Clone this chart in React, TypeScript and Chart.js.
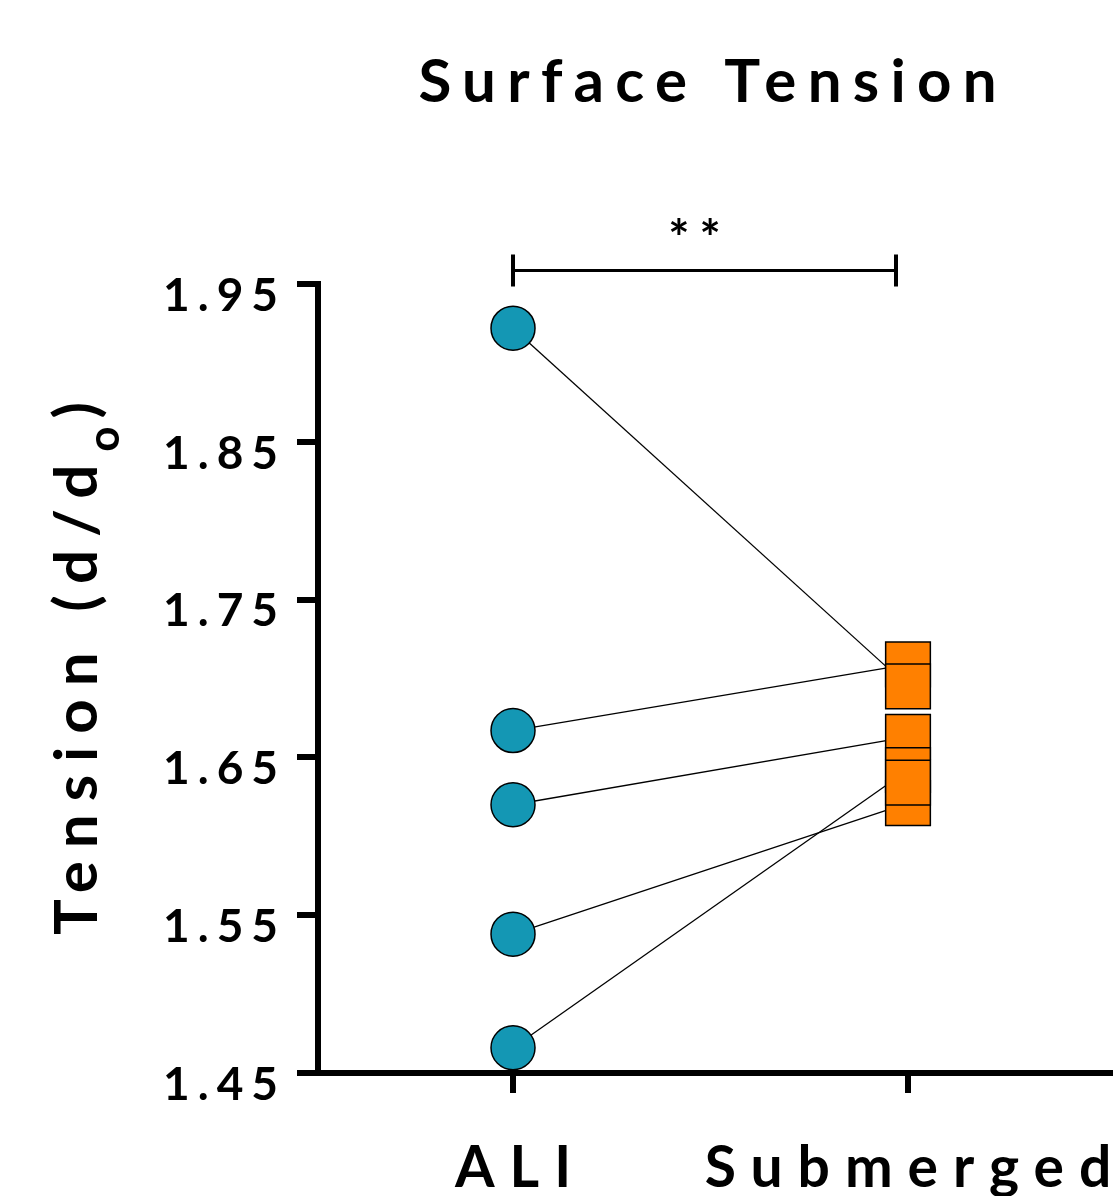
import { useEffect, useRef } from 'react';
import { Chart, registerables } from 'chart.js';

Chart.register(...registerables);

const categories = ['ALI', 'Submerged'];
const aliValues: (number | null)[] = [1.667, 1.922, 1.62, 1.466, 1.538, null];
const submergedValues: number[] = [1.709, 1.695, 1.663, 1.642, 1.621, 1.634];
const yTicks = [1.45, 1.55, 1.65, 1.75, 1.85, 1.95];
const chartTitle = 'Surface Tension';
const yTitleMain = 'Tension (d/d';
const yTitleSub = 'o';
const yTitleEnd = ')';
const significance = '**';
const bracketLevel = 1.9585;

const FONT = 'Lato, "Open Sans", sans-serif';

export default function App() {
  const ref = useRef<HTMLCanvasElement>(null);

  useEffect(() => {
    document.body.style.margin = '0';
    const canvas = ref.current;
    if (!canvas) return;

    const lineDatasets = aliValues
      .map((a, i) =>
        a == null
          ? null
          : {
              type: 'line' as const,
              data: [
                { x: 0, y: a },
                { x: 1, y: submergedValues[i] },
              ],
              showLine: true,
              borderColor: '#000',
              borderWidth: 1.3,
              pointRadius: 0,
              fill: false,
              order: 3,
              clip: false as const,
            }
      )
      .filter(Boolean) as any[];

    const textPlugin = {
      id: 'customText',
      beforeDraw(chart: any) {
        chart.ctx.letterSpacing = '8px';
      },
      afterDraw(chart: any) {
        const ctx: CanvasRenderingContext2D = chart.ctx;
        const xs = chart.scales.x;
        const ys = chart.scales.y;
        const put = (
          text: string,
          px: number,
          py: number,
          size: number,
          spacing: number,
          align: CanvasTextAlign
        ) => {
          ctx.save();
          ctx.font = `bold ${size}px ${FONT}`;
          (ctx as any).letterSpacing = `${spacing}px`;
          ctx.fillStyle = '#000';
          ctx.textAlign = align;
          ctx.textBaseline = 'alphabetic';
          ctx.fillText(text, align === 'center' ? px + spacing / 2 : px, py);
          ctx.restore();
        };

        // title
        put(chartTitle, 707.5, 102, 60, 11.3, 'center');

        // x category labels
        categories.forEach((c, i) => {
          put(c, xs.getPixelForValue(i), 1187, 57, 15, 'center');
        });

        // y axis title (rotated)
        ctx.save();
        ctx.translate(97, 935);
        ctx.rotate(-Math.PI / 2);
        ctx.fillStyle = '#000';
        ctx.textAlign = 'left';
        ctx.textBaseline = 'alphabetic';
        ctx.font = `bold 60px ${FONT}`;
        (ctx as any).letterSpacing = '13px';
        ctx.fillText(yTitleMain, 0, 0);
        let w = ctx.measureText(yTitleMain).width;
        ctx.font = `bold 44px ${FONT}`;
        (ctx as any).letterSpacing = '8px';
        ctx.fillText(yTitleSub, w, 22);
        w += ctx.measureText(yTitleSub).width;
        ctx.font = `bold 60px ${FONT}`;
        (ctx as any).letterSpacing = '13px';
        ctx.fillText(yTitleEnd, w, 0);
        ctx.restore();

        // significance bracket
        const by = ys.getPixelForValue(bracketLevel);
        const bx1 = xs.getPixelForValue(0);
        const bx2 = xs.getPixelForValue(1) - 12;
        ctx.save();
        ctx.strokeStyle = '#000';
        ctx.lineWidth = 3;
        ctx.beginPath();
        ctx.moveTo(bx1, by);
        ctx.lineTo(bx2, by);
        ctx.stroke();
        ctx.lineWidth = 4;
        ctx.beginPath();
        ctx.moveTo(bx1, by - 16);
        ctx.lineTo(bx1, by + 16);
        ctx.moveTo(bx2, by - 16);
        ctx.lineTo(bx2, by + 16);
        ctx.stroke();
        ctx.restore();

        put(significance, 694.5, 256, 50, 10, 'center');
      },
    };

    const chart = new Chart(canvas, {
      type: 'scatter',
      data: {
        datasets: [
          {
            label: categories[0],
            data: aliValues
              .filter((v) => v != null)
              .map((v) => ({ x: 0, y: v as number })),
            pointStyle: 'circle',
            pointRadius: 22,
            pointHoverRadius: 22,
            backgroundColor: '#1497B4',
            borderColor: '#000',
            borderWidth: 1.5,
            order: 1,
            clip: false as const,
          },
          {
            label: categories[1],
            data: submergedValues.map((v) => ({ x: 1, y: v })),
            pointStyle: 'rect',
            pointRadius: 31.6,
            pointHoverRadius: 31.6,
            backgroundColor: '#FF8000',
            borderColor: '#000',
            borderWidth: 1.5,
            order: 2,
            clip: false as const,
          },
          ...lineDatasets,
        ],
      },
      options: {
        animation: false,
        responsive: false,
        events: [],
        layout: {
          autoPadding: false,
          padding: { top: 284, right: 6, left: 0, bottom: 0 },
        },
        plugins: {
          legend: { display: false },
          title: { display: false },
          tooltip: { enabled: false },
        },
        scales: {
          x: {
            type: 'linear',
            position: 'bottom',
            min: -0.4937,
            max: 1.5114,
            afterBuildTicks: (s: any) => {
              s.ticks = categories.map((_, i) => ({ value: i }));
            },
            afterFit: (s: any) => {
              s.height = 123;
            },
            ticks: { display: false },
            grid: {
              drawOnChartArea: false,
              drawTicks: true,
              tickLength: 20,
              lineWidth: 6,
              color: '#000',
            },
            border: { display: true, width: 6, color: '#000' },
          },
          y: {
            type: 'linear',
            position: 'left',
            min: yTicks[0],
            max: yTicks[yTicks.length - 1],
            afterBuildTicks: (s: any) => {
              s.ticks = yTicks.map((v) => ({ value: v }));
            },
            afterFit: (s: any) => {
              s.width = 318;
            },
            ticks: {
              callback: (v: any) => Number(v).toFixed(2),
              font: { family: FONT, size: 46, weight: 'bold' },
              color: '#000',
              padding: 11,
              labelOffset: 12,
            },
            grid: {
              drawOnChartArea: false,
              drawTicks: true,
              tickLength: 21,
              lineWidth: 6,
              color: '#000',
            },
            border: { display: true, width: 6, color: '#000' },
          },
        },
      },
      plugins: [textPlugin],
    } as any);

    return () => chart.destroy();
  }, []);

  return (
    <div style={{ width: 1116, height: 1196 }}>
      <canvas ref={ref} width={1116} height={1196} style={{ display: 'block' }} />
    </div>
  );
}
